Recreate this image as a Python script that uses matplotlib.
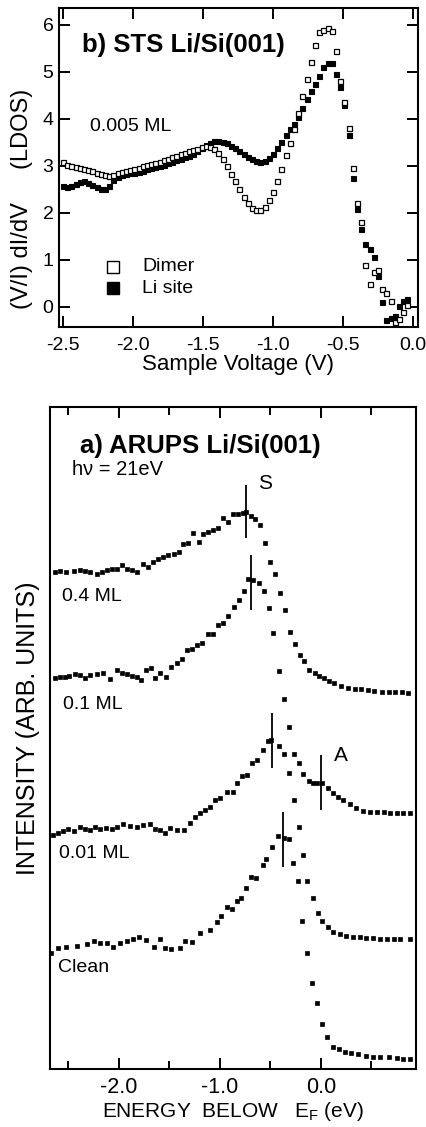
import matplotlib
matplotlib.use("Agg")
import matplotlib.pyplot as plt
from matplotlib.ticker import FixedLocator

plt.rcParams['font.family'] = ['Liberation Sans', 'DejaVu Sans']
plt.rcParams['mathtext.fontset'] = 'custom'
plt.rcParams['mathtext.rm'] = 'Liberation Sans'
plt.rcParams['mathtext.it'] = 'Liberation Sans:italic'

# ---------------- (b) STS data ----------------
sts_voltage = [-2.50, -2.47, -2.44, -2.41, -2.38, -2.35, -2.32, -2.29, -2.26, -2.23,
               -2.20, -2.17, -2.14, -2.11, -2.08, -2.05, -2.02, -1.99, -1.96, -1.93,
               -1.90, -1.87, -1.84, -1.81, -1.78, -1.75, -1.72, -1.69, -1.66, -1.63,
               -1.60, -1.57, -1.54, -1.51, -1.48, -1.45, -1.42, -1.39, -1.36, -1.33,
               -1.30, -1.27, -1.24, -1.21, -1.18, -1.15, -1.12, -1.09, -1.06, -1.03,
               -1.00, -0.97, -0.94, -0.91, -0.88, -0.85, -0.82, -0.79, -0.76, -0.73,
               -0.70, -0.67, -0.64, -0.61, -0.58, -0.55, -0.52, -0.49, -0.46, -0.43,
               -0.40, -0.37, -0.34, -0.31, -0.28, -0.25, -0.22, -0.19, -0.16, -0.13,
               -0.10, -0.07, -0.04]
sts_dimer = [3.08, 3.03, 2.99, 2.97, 2.95, 2.93, 2.91, 2.89, 2.86, 2.83,
             2.81, 2.78, 2.80, 2.84, 2.87, 2.90, 2.92, 2.94, 2.96, 2.99,
             3.01, 3.04, 3.06, 3.09, 3.12, 3.15, 3.19, 3.22, 3.25, 3.28,
             3.31, 3.34, 3.37, 3.40, 3.42, 3.40, 3.36, 3.28, 3.14, 2.99,
             2.83, 2.67, 2.50, 2.35, 2.21, 2.11, 2.07, 2.06, 2.13, 2.27,
             2.45, 2.67, 2.93, 3.24, 3.48, 3.78, 4.12, 4.48, 4.85, 5.22,
             5.58, 5.84, 5.90, 5.94, 5.88, 5.45, 4.80, 4.35, 3.80, 2.95,
             2.22, 1.80, 0.89, 0.49, 0.75, 0.79, 0.38, 0.29, 0.13, -0.31,
             -0.26, -0.10, 0.04]
sts_lisite = [2.58, 2.56, 2.58, 2.61, 2.65, 2.67, 2.64, 2.59, 2.55, 2.52,
              2.52, 2.58, 2.70, 2.76, 2.80, 2.82, 2.84, 2.86, 2.88, 2.90,
              2.93, 2.95, 2.98, 3.00, 3.03, 3.06, 3.09, 3.12, 3.15, 3.18,
              3.21, 3.26, 3.32, 3.38, 3.44, 3.49, 3.53, 3.54, 3.52, 3.48,
              3.43, 3.38, 3.32, 3.26, 3.20, 3.14, 3.10, 3.08, 3.10, 3.17,
              3.26, 3.38, 3.52, 3.66, 3.78, 3.90, 4.04, 4.24, 4.42, 4.60,
              4.75, 4.92, 5.10, 5.20, 5.19, 4.95, 4.68, 4.30, 3.65, 2.75,
              2.08, 1.66, 1.34, 1.23, 1.07, 0.66, 0.10, -0.28, -0.24, -0.19,
              0.02, 0.13, 0.17]
sts_xticks = [-2.5, -2.0, -1.5, -1.0, -0.5, 0.0]
sts_xticklabels = ['-2.5', '-2.0', '-1.5', '-1.0', '-0.5', '0.0']
sts_yticks = [0, 1, 2, 3, 4, 5, 6]

# ---------------- (a) ARUPS data (intensity in arbitrary units) ----------------
e_04 = [-2.63, -2.58, -2.52, -2.45, -2.39, -2.34, -2.29, -2.22, -2.17, -2.12,
        -2.07, -2.02, -1.97, -1.92, -1.87, -1.82, -1.76, -1.71, -1.66, -1.61,
        -1.56, -1.51, -1.46, -1.41, -1.37, -1.32, -1.27, -1.21, -1.17, -1.12,
        -1.07, -1.02, -0.97, -0.92, -0.87, -0.82, -0.77, -0.74, -0.69, -0.65,
        -0.60, -0.55, -0.50, -0.46, -0.41, -0.36, -0.31, -0.26, -0.21, -0.17,
        -0.12, -0.06, -0.02, 0.03, 0.08, 0.13, 0.20, 0.27, 0.34, 0.40,
        0.47, 0.53, 0.60, 0.67, 0.73, 0.80, 0.86]
i_04 = [497, 498, 497, 498, 499, 498, 497, 495, 497, 499,
        500, 500, 504, 500, 499, 497, 505, 502, 507, 510,
        512, 514, 515, 517, 525, 526, 536, 527, 535, 537,
        539, 541, 551, 547, 555, 555, 556, 557, 553, 550,
        544, 526, 507, 495, 476, 459, 437, 425, 414, 408,
        399, 396, 393, 391, 388, 386, 383, 381, 380, 380,
        379, 378, 377, 377, 377, 377, 376]

e_01 = [-2.63, -2.58, -2.53, -2.49, -2.44, -2.39, -2.34, -2.29, -2.22, -2.16,
        -2.09, -2.02, -1.97, -1.92, -1.87, -1.82, -1.78, -1.73, -1.68, -1.64,
        -1.59, -1.53, -1.48, -1.43, -1.38, -1.33, -1.28, -1.23, -1.18, -1.12,
        -1.07, -1.02, -0.97, -0.92, -0.86, -0.81, -0.76, -0.72, -0.67, -0.61,
        -0.56, -0.51, -0.47, -0.42, -0.37, -0.32, -0.27, -0.22, -0.18, -0.12,
        -0.08, -0.04, 0.01, 0.07, 0.12, 0.17, 0.22, 0.29, 0.35, 0.42,
        0.49, 0.55, 0.62, 0.68, 0.75, 0.81, 0.88]
i_01 = [391, 392, 392, 393, 395, 394, 391, 394, 395, 396,
        390, 399, 396, 395, 393, 392, 389, 399, 401, 391,
        396, 392, 402, 406, 410, 419, 420, 424, 426, 435,
        435, 444, 446, 453, 462, 469, 478, 490, 489, 486,
        478, 461, 436, 398, 370, 342, 315, 306, 295, 288,
        286, 286, 286, 281, 276, 272, 269, 265, 261, 258,
        257, 257, 257, 256, 256, 256, 256]

e_001 = [-2.65, -2.60, -2.55, -2.50, -2.45, -2.39, -2.34, -2.29, -2.24, -2.19,
         -2.13, -2.07, -2.02, -1.96, -1.89, -1.82, -1.76, -1.69, -1.64, -1.59,
         -1.54, -1.49, -1.43, -1.36, -1.30, -1.25, -1.20, -1.15, -1.10, -1.05,
         -1.00, -0.93, -0.87, -0.83, -0.78, -0.73, -0.68, -0.63, -0.57, -0.52,
         -0.49, -0.42, -0.37, -0.32, -0.27, -0.22, -0.18, -0.14, -0.08, -0.03,
         0.01, 0.07, 0.12, 0.19, 0.25, 0.32, 0.39, 0.45, 0.52, 0.58,
         0.65, 0.72, 0.78, 0.88]
i_001 = [234, 236, 238, 240, 238, 242, 240, 239, 242, 240,
         241, 240, 242, 245, 243, 242, 244, 245, 240, 239,
         236, 241, 239, 239, 246, 252, 256, 259, 262, 269,
         271, 277, 277, 286, 293, 294, 306, 309, 319, 328,
         329, 323, 315, 296, 269, 242, 214, 188, 171, 156,
         148, 142, 137, 135, 133, 132, 132, 131, 131, 130,
         130, 130, 130, 130]

e_clean = [-2.67, -2.60, -2.52, -2.42, -2.32, -2.25, -2.19, -2.12, -2.06, -1.99,
           -1.92, -1.86, -1.80, -1.73, -1.65, -1.59, -1.54, -1.48, -1.40, -1.35,
           -1.28, -1.20, -1.10, -1.03, -0.99, -0.93, -0.88, -0.83, -0.79, -0.74,
           -0.69, -0.64, -0.57, -0.54, -0.48, -0.43, -0.37, -0.32, -0.28, -0.23,
           -0.19, -0.14, -0.09, -0.04, 0.01, 0.06, 0.12, 0.18, 0.24, 0.30,
           0.37, 0.45, 0.52, 0.58, 0.67, 0.75, 0.81, 0.88]
i_clean = [116, 121, 122, 123, 125, 128, 126, 126, 122, 126,
           128, 130, 132, 129, 122, 130, 121, 120, 121, 128,
           127, 136, 139, 147, 153, 162, 160, 168, 171, 181,
           192, 191, 204, 210, 222, 233, 231, 230, 206, 188,
           148, 116, 86, 66, 45, 32, 22, 20, 17, 16,
           15, 13, 12, 12, 12, 11, 10, 10]

# peak markers: energy, lower and upper intensity
mark_energy = [-0.74, -0.69, -0.48, -0.38, 0.00]
mark_low = [531, 459, 301, 202, 259]
mark_high = [584, 514, 356, 257, 314]

arups_labels = ['0.4 ML', '0.1 ML', '0.01 ML', 'Clean']

# ---------------- figure ----------------
W, H = 427, 1127
fig = plt.figure(figsize=(W / 100, H / 100), dpi=100)

def frac_box(l, r, t, b):
    return [l / W, 1 - b / H, (r - l) / W, (b - t) / H]

# ---- top panel (b) ----
axb = fig.add_axes(frac_box(59, 418, 8, 327))
axb.plot(sts_voltage, sts_lisite, ls='none', marker='s', ms=3.6,
         mfc='black', mec='black', mew=0.8)
axb.plot(sts_voltage, sts_dimer, ls='none', marker='s', ms=3.6,
         mfc='white', mec='black', mew=0.9)
axb.set_xlim(-2.529, 0.036)
axb.set_ylim(-0.426, 6.36)
axb.set_xticks(sts_xticks)
axb.set_xticklabels(sts_xticklabels)
axb.set_yticks(sts_yticks)
axb.tick_params(direction='in', top=True, right=True, length=8, width=1.4,
                labelsize=14, pad=7)
axb.tick_params(axis='y', pad=4)
for s in axb.spines.values():
    s.set_linewidth(1.5)
axb.set_xlabel('Sample Voltage (V)', fontsize=16, labelpad=0)
axb.text(0.064, 0.884, 'b) STS Li/Si(001)', transform=axb.transAxes,
         fontsize=18.5, fontweight='bold', ha='left', va='center')
axb.text(0.086, 0.627, '0.005 ML', transform=axb.transAxes,
         fontsize=14, ha='left', va='center')
# legend
axb.plot([0.150], [0.189], transform=axb.transAxes, marker='s', ms=8,
         mfc='white', mec='black', mew=1.0, ls='none')
axb.plot([0.150], [0.121], transform=axb.transAxes, marker='s', ms=8,
         mfc='black', mec='black', mew=1.0, ls='none')
axb.text(0.231, 0.189, 'Dimer', transform=axb.transAxes, fontsize=14,
         ha='left', va='center')
axb.text(0.231, 0.121, 'Li site', transform=axb.transAxes, fontsize=14,
         ha='left', va='center')
fig.text(22 / W, 1 - 199 / H, '(V/I) dI/dV     (LDOS)', rotation=90,
         fontsize=17, ha='center', va='center')

# ---- bottom panel (a) ----
axa = fig.add_axes(frac_box(50, 416, 407, 1069))
for e, i in [(e_04, i_04), (e_01, i_01), (e_001, i_001), (e_clean, i_clean)]:
    axa.plot(e, i, ls='none', marker='s', ms=3.3, mfc='black', mec='black', mew=0.5)
axa.vlines(mark_energy, mark_low, mark_high, colors='black', lw=1.3)
axa.set_xlim(-2.683, 0.941)
axa.set_ylim(0, 662)
axa.xaxis.set_major_locator(FixedLocator([-2.0, -1.0, 0.0]))
axa.xaxis.set_minor_locator(FixedLocator([-2.5, -1.5, -0.5, 0.5]))
axa.set_xticklabels(['-2.0', '-1.0', '0.0'])
axa.set_yticks([])
axa.tick_params(axis='x', which='both', direction='in', top=True, width=1.4,
                labelsize=15.5, pad=6)
axa.tick_params(axis='x', which='major', length=8)
axa.tick_params(axis='x', which='minor', length=6)
for s in axa.spines.values():
    s.set_linewidth(1.5)
axa.set_xlabel(r'ENERGY  BELOW   E$_\mathrm{F}$ (eV)', fontsize=15, labelpad=1)
axa.text(0.082, 0.941, 'a) ARUPS Li/Si(001)', transform=axa.transAxes,
         fontsize=18.5, fontweight='bold', ha='left', va='center')
axa.text(0.060, 0.906, 'h\u03bd = 21eV', transform=axa.transAxes,
         fontsize=14.5, ha='left', va='center')
axa.text(0.568, 0.885, 'S', transform=axa.transAxes, fontsize=15,
         ha='left', va='center')
axa.text(0.776, 0.474, 'A', transform=axa.transAxes, fontsize=15,
         ha='left', va='center')
label_pos = [(0.033, 0.713), (0.036, 0.551), (0.025, 0.325), (0.022, 0.154)]
for lab, (x, y) in zip(arups_labels, label_pos):
    axa.text(x, y, lab, transform=axa.transAxes, fontsize=14,
             ha='left', va='center')
fig.text(28 / W, 1 - 728 / H, 'INTENSITY (ARB. UNITS)', rotation=90,
         fontsize=18, ha='center', va='center')

fig.savefig('out.png', dpi=100)
